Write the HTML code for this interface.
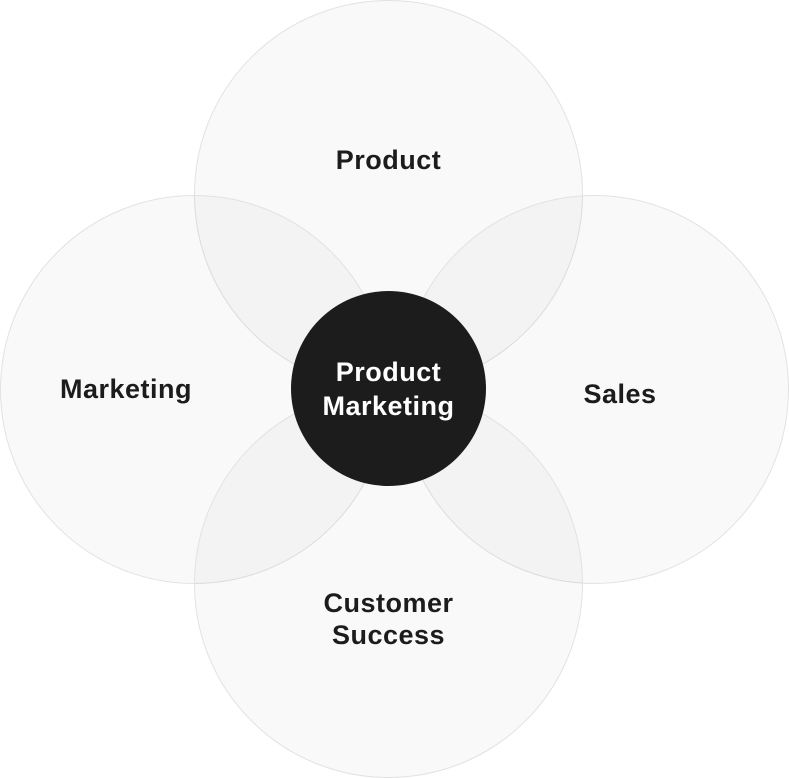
<!DOCTYPE html>
<html><head><style>html,body{margin:0;padding:0;background:#fff;width:789px;height:778px;overflow:hidden}</style></head>
<body>
<svg width="789" height="778" viewBox="0 0 789 778" xmlns="http://www.w3.org/2000/svg">
<g fill="rgba(0,0,0,0.022)" stroke="#e2e2e2" stroke-width="1">
<circle cx="388.5" cy="194.5" r="194"/>
<circle cx="194.5" cy="389.5" r="194"/>
<circle cx="594.5" cy="389.5" r="194"/>
<circle cx="388.5" cy="583.5" r="194"/>
</g>
<circle cx="388.5" cy="388.5" r="97.5" fill="#1c1c1c"/>
<g font-family="Liberation Sans, sans-serif" font-weight="bold" font-size="27" letter-spacing="0.5" text-anchor="middle" fill="#1c1c1c">
<text x="388.5" y="169">Product</text>
<text x="126" y="398">Marketing</text>
<text x="620" y="403">Sales</text>
<text x="388.5" y="612">Customer</text>
<text x="388.5" y="644">Success</text>
<text x="388.5" y="381" fill="#fff">Product</text>
<text x="388.5" y="415" fill="#fff">Marketing</text>
</g>
</svg>
</body></html>
